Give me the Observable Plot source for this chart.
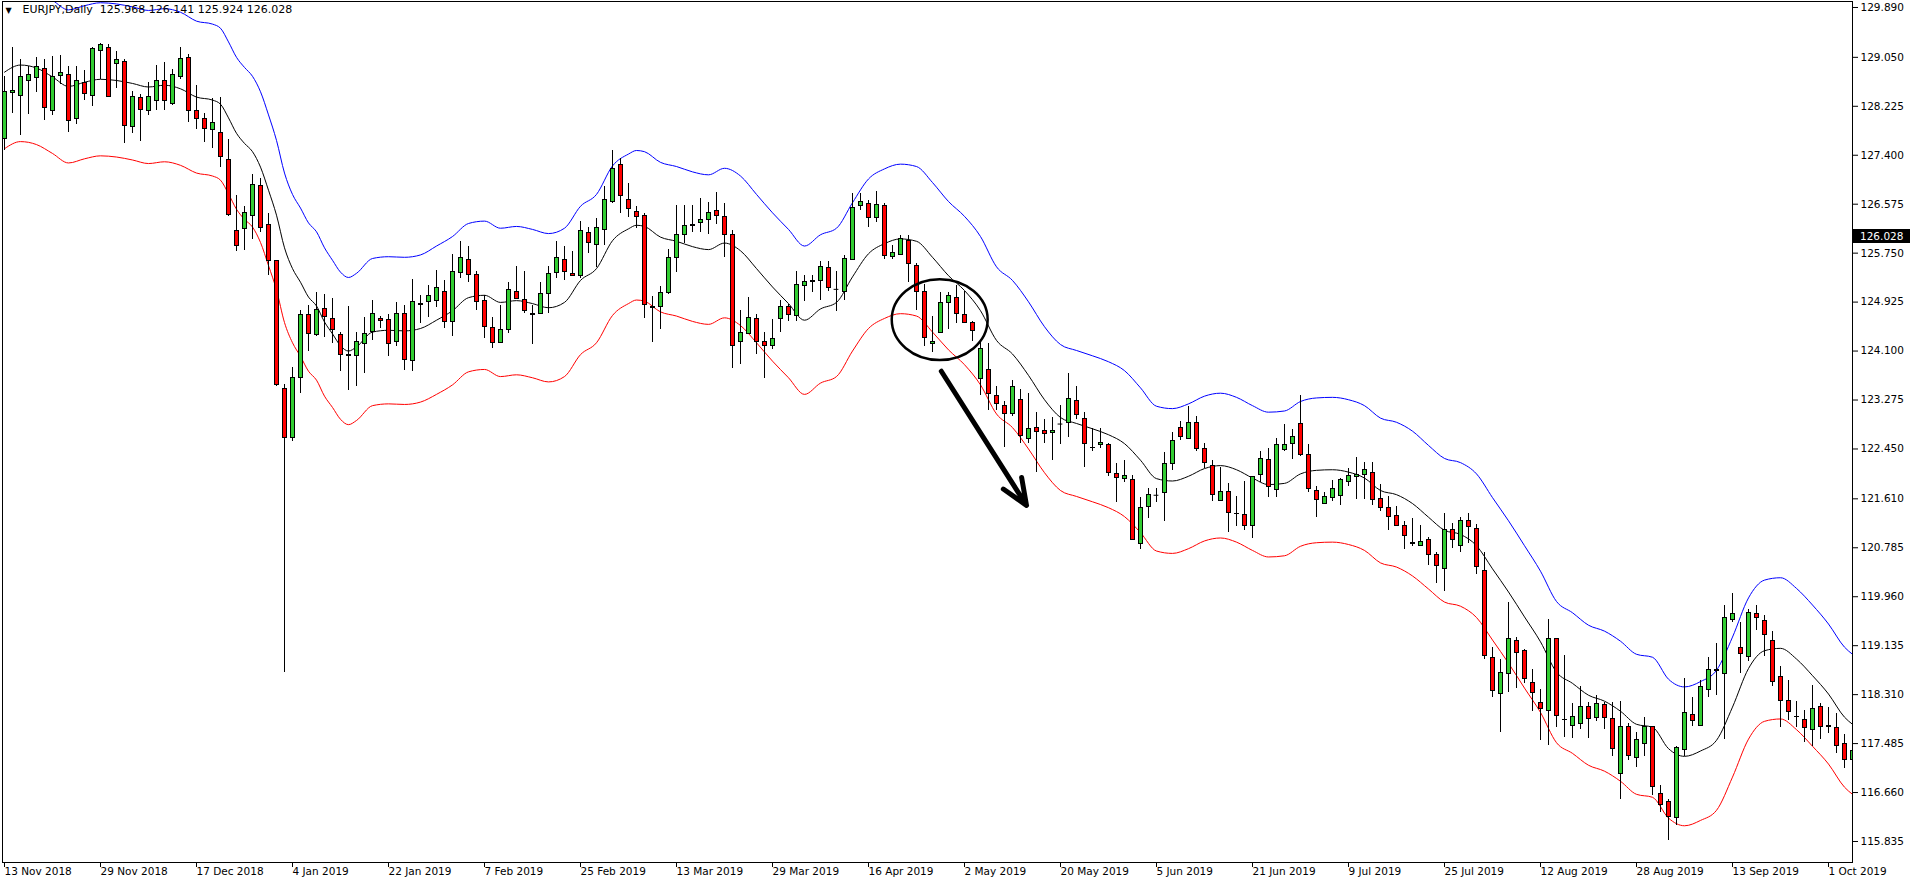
<!DOCTYPE html>
<html><head><meta charset="utf-8">
<script src="https://cdn.jsdelivr.net/npm/d3@7"></script>
<script src="https://cdn.jsdelivr.net/npm/@observablehq/plot@0.6"></script>
<style>
html,body{margin:0;padding:0;background:#fff;overflow:hidden;}
#wrap{width:1916px;height:884px;}
</style></head><body><div id="wrap"></div>
<script>
// ---- Daily EURJPY bars (index 0 = 13 Nov 2018) ----
const openPrices = [127.67,128.45,128.40,128.65,128.70,128.85,128.15,128.73,128.75,128.01,128.62,128.40,129.15,129.21,128.94,128.97,127.88,128.37,128.15,128.31,128.65,128.26,128.72,129.04,128.15,128.01,127.82,127.78,127.32,126.13,126.15,126.37,126.88,126.23,125.61,123.46,122.64,123.65,124.70,124.37,124.81,124.64,124.37,124.03,124.02,124.22,124.42,124.64,124.63,124.25,124.72,123.93,124.87,124.92,124.94,125.10,124.59,125.41,125.63,125.39,124.94,124.49,124.24,124.46,125.10,124.96,124.73,124.72,125.07,125.41,125.64,125.40,125.36,126.09,125.89,126.14,126.62,127.24,126.65,126.44,126.37,124.85,124.85,125.08,125.67,126.06,126.21,126.26,126.31,126.46,126.36,126.06,124.25,124.39,124.64,124.25,124.18,124.64,124.85,124.69,125.19,125.28,125.28,125.50,125.14,125.10,125.64,126.54,126.58,126.35,126.55,125.68,125.72,125.96,125.53,125.10,124.22,124.40,124.91,125.00,124.71,124.58,123.63,123.78,123.35,123.17,123.04,123.28,122.62,122.81,122.75,122.72,122.87,122.89,123.26,122.96,122.47,122.52,122.52,122.03,121.95,121.93,120.85,121.47,121.67,121.70,122.20,122.81,122.61,122.89,122.45,122.16,121.58,121.73,121.36,121.34,121.16,122.01,122.27,121.76,122.44,122.53,122.87,122.35,121.75,121.53,121.62,121.66,121.89,121.98,122.01,122.05,121.61,121.46,121.32,121.16,120.86,120.81,120.91,120.66,120.43,121.08,120.81,121.23,121.10,120.40,118.93,118.32,118.66,119.22,119.05,118.51,118.17,118.03,119.24,117.89,117.78,117.82,118.10,117.92,118.14,117.90,116.98,117.77,117.25,117.48,117.76,116.64,116.50,116.23,117.38,117.97,117.78,118.38,118.72,118.66,119.57,119.10,118.95,119.67,119.55,119.21,118.60,118.20,117.94,117.89,117.72,118.10,117.78,117.75,117.48,117.20];
const highPrices = [128.73,129.21,129.01,128.89,129.04,129.01,129.06,129.08,128.89,128.89,128.83,129.22,129.29,129.26,129.14,129.01,128.47,128.42,128.63,128.91,128.96,128.84,129.22,129.10,128.57,128.10,128.35,128.37,127.67,126.72,126.53,127.07,127.00,126.41,125.63,123.53,123.83,124.78,124.86,125.09,125.05,124.99,124.41,124.85,124.41,124.66,124.95,124.68,124.72,124.91,124.87,125.31,125.03,125.21,125.46,125.29,125.72,125.94,125.86,125.44,125.04,124.67,124.87,125.25,125.53,125.44,124.86,125.26,125.53,125.94,125.86,125.77,126.29,126.19,126.33,126.88,127.48,127.34,126.93,126.53,126.42,125.02,125.19,125.81,126.55,126.55,126.55,126.67,126.60,126.77,126.58,126.14,124.79,125.01,124.71,124.41,124.63,124.95,124.88,125.44,125.37,125.38,125.61,125.61,125.44,125.71,126.75,126.76,126.64,126.79,126.58,125.88,126.05,126.04,125.58,125.22,124.69,125.08,125.09,125.20,125.11,124.60,124.25,124.23,123.50,123.25,123.60,123.45,123.38,123.07,122.94,122.98,123.18,123.73,123.50,123.07,122.79,122.79,122.54,122.21,122.26,122.00,121.64,121.78,121.78,122.39,122.72,122.92,123.17,123.00,122.55,122.26,122.13,121.86,121.65,121.90,121.98,122.40,122.45,122.62,122.87,122.77,123.35,122.52,121.81,121.72,121.92,121.96,122.12,122.30,122.23,122.22,121.85,121.65,121.48,121.23,121.27,121.16,120.96,120.70,121.36,121.20,121.30,121.37,121.17,120.70,119.11,118.91,119.86,119.28,119.07,118.73,118.40,119.58,119.25,118.97,118.16,118.45,118.18,118.30,118.17,118.17,118.20,117.83,117.68,117.93,117.77,116.78,116.55,117.44,118.59,118.26,118.54,118.94,119.18,119.81,120.02,119.52,119.75,119.81,119.64,119.37,118.78,118.55,118.20,118.05,118.46,118.16,118.10,117.99,117.64,117.48];
const lowPrices = [127.48,128.10,127.74,128.09,128.45,127.98,128.07,128.59,127.79,127.91,128.33,128.22,128.68,128.37,128.52,127.59,127.76,127.64,128.07,128.15,128.15,128.24,128.68,127.96,127.84,127.62,127.51,127.20,126.36,125.77,125.79,125.98,126.10,125.38,123.51,118.68,122.57,123.39,124.10,124.34,124.33,124.22,123.75,123.44,123.51,123.72,124.28,124.48,124.01,124.18,123.77,123.76,124.57,124.67,124.84,124.48,124.34,125.33,125.26,124.78,124.32,124.14,124.24,124.39,124.98,124.73,124.21,124.72,124.74,125.32,125.29,125.37,125.32,125.75,125.51,125.88,126.58,126.42,126.35,126.16,124.65,124.25,124.46,125.05,125.43,125.91,126.10,126.10,126.06,126.24,125.67,123.80,123.87,124.39,124.04,123.63,124.12,124.42,124.60,124.59,124.94,125.09,124.95,125.11,124.76,124.95,125.63,126.47,126.18,126.26,125.64,125.64,125.72,125.26,124.79,124.18,124.07,124.40,124.46,124.56,124.58,124.26,123.35,123.10,123.10,122.47,122.99,122.54,122.55,122.06,122.55,122.25,122.52,122.65,122.94,122.13,122.40,122.45,121.99,121.55,121.89,120.90,120.76,121.28,121.54,121.23,122.08,122.59,122.61,122.40,122.12,121.57,121.58,121.05,121.15,121.07,120.94,121.88,121.64,121.64,122.40,122.27,122.33,121.72,121.30,121.53,121.57,121.50,121.82,121.60,121.60,121.49,121.40,121.08,121.15,120.76,120.80,120.80,120.48,120.19,120.04,120.78,120.71,120.85,120.33,118.91,118.26,117.67,118.35,118.42,118.49,118.03,117.54,117.45,117.76,117.59,117.57,117.73,117.57,117.85,117.72,117.26,116.55,117.20,117.09,117.26,116.61,116.32,115.86,116.11,117.26,117.78,117.78,118.26,118.29,117.55,119.52,118.67,118.87,119.39,118.95,118.44,117.76,117.88,117.76,117.51,117.43,117.55,117.66,117.31,117.06,117.07];
const closePrices = [128.47,128.49,128.72,128.75,128.89,128.20,128.72,128.79,127.98,128.65,128.43,129.19,129.26,128.38,129.01,127.89,128.38,128.16,128.38,128.65,128.31,128.75,129.03,128.15,128.01,127.85,127.95,127.37,126.39,125.87,126.42,126.90,126.17,125.61,123.53,122.64,123.65,124.71,124.39,124.80,124.67,124.46,124.04,124.02,124.25,124.39,124.72,124.60,124.22,124.73,123.95,124.92,124.90,125.02,125.17,124.59,125.44,125.67,125.39,124.92,124.50,124.23,124.45,125.13,124.98,124.77,124.71,125.07,125.40,125.66,125.44,125.37,126.12,125.92,126.18,126.64,127.17,126.71,126.50,126.36,124.88,124.83,125.08,125.67,126.06,126.20,126.22,126.31,126.43,126.37,126.06,124.19,124.41,124.66,124.25,124.18,124.31,124.85,124.71,125.22,125.27,125.27,125.51,125.16,125.14,125.65,126.51,126.62,126.35,126.56,125.70,125.76,125.99,125.57,125.09,124.32,124.25,124.91,125.02,124.73,124.58,124.44,124.14,123.38,123.21,123.04,123.50,122.67,122.79,122.73,122.71,122.76,122.87,123.30,123.03,122.54,122.46,122.55,122.05,121.96,121.99,120.91,121.46,121.68,121.67,122.20,122.58,122.65,122.89,122.45,122.22,121.68,121.72,121.37,121.35,121.16,121.97,122.28,121.81,122.52,122.51,122.66,122.35,121.78,121.59,121.64,121.77,121.92,121.99,122.01,122.10,121.59,121.46,121.30,121.15,120.98,120.85,120.89,120.67,120.48,121.08,120.91,121.23,121.13,120.46,118.96,118.37,118.67,119.24,119.02,118.58,118.34,118.07,119.24,117.95,117.88,117.93,118.10,117.90,118.16,117.92,117.40,117.77,117.27,117.55,117.76,116.75,116.45,116.25,117.41,118.00,117.87,118.44,118.73,118.71,119.60,119.67,118.99,119.69,119.60,119.31,118.53,118.21,118.01,117.93,117.75,118.07,117.77,117.77,117.45,117.20,117.36];

// ---- Moving average (black) and 1% envelope (blue / red), read at bar indices ----
const maBars = [0,2,4,6,8,10,12,14,16,18,20,22,24,26,27,28,29,30,31,32,33,34,35,36,37,38,39,40,41,42,43,44,46,48,50,52,54,56,58,60,62,64,66,68,70,72,74,76,78,79,80,82,84,86,88,90,92,94,96,98,100,102,104,106,108,110,112,114,116,118,120,122,124,126,128,130,132,134,136,138,140,142,144,146,148,150,152,154,156,158,160,162,164,166,168,170,172,174,176,178,180,182,184,186,188,190,192,194,196,198,200,202,204,206,208,210,212,214,216,218,220,222,224,226,228,230,231];
const maMiddle = [128.80,128.92,128.87,128.72,128.56,128.63,128.68,128.66,128.61,128.55,128.58,128.52,128.38,128.33,128.26,128.03,127.77,127.60,127.46,127.20,126.81,126.39,125.84,125.49,125.26,125.01,124.86,124.59,124.39,124.19,124.10,124.17,124.42,124.45,124.44,124.48,124.62,124.78,125.00,125.04,124.92,124.95,124.90,124.83,124.92,125.29,125.49,125.96,126.16,126.22,126.20,126.02,125.95,125.86,125.81,125.92,125.79,125.49,125.18,124.90,124.62,124.81,124.92,125.35,125.74,125.91,125.99,125.95,125.68,125.37,125.12,124.78,124.28,124.05,123.69,123.28,122.98,122.88,122.79,122.69,122.54,122.26,121.95,121.91,121.99,122.12,122.17,122.10,121.96,121.85,121.87,122.03,122.09,122.10,122.06,121.96,121.75,121.68,121.53,121.30,121.08,121.01,120.82,120.43,120.04,119.62,119.20,118.69,118.50,118.30,118.20,118.03,117.81,117.76,117.40,117.27,117.36,117.54,118.10,118.75,119.05,119.09,118.91,118.63,118.32,117.93,117.81];
const envUpper = [130.09,130.21,130.16,130.01,129.85,129.92,129.97,129.95,129.90,129.84,129.87,129.81,129.66,129.61,129.54,129.31,129.05,128.88,128.73,128.47,128.08,127.65,127.10,126.74,126.51,126.26,126.11,125.84,125.63,125.43,125.34,125.41,125.66,125.69,125.68,125.72,125.87,126.03,126.25,126.29,126.17,126.20,126.15,126.08,126.17,126.54,126.74,127.22,127.42,127.48,127.46,127.28,127.21,127.12,127.07,127.18,127.05,126.74,126.43,126.15,125.87,126.06,126.17,126.60,127.00,127.17,127.25,127.21,126.94,126.62,126.37,126.03,125.52,125.29,124.93,124.51,124.21,124.11,124.02,123.92,123.77,123.48,123.17,123.13,123.21,123.34,123.39,123.32,123.18,123.07,123.09,123.25,123.31,123.32,123.28,123.18,122.97,122.90,122.75,122.51,122.29,122.22,122.03,121.63,121.24,120.82,120.39,119.88,119.69,119.48,119.38,119.21,118.99,118.94,118.57,118.44,118.53,118.72,119.28,119.94,120.24,120.28,120.10,119.82,119.50,119.11,118.99];
const envLower = [127.51,127.63,127.58,127.43,127.27,127.34,127.39,127.37,127.32,127.26,127.29,127.23,127.10,127.05,126.98,126.75,126.49,126.32,126.19,125.93,125.54,125.13,124.58,124.24,124.01,123.76,123.61,123.34,123.15,122.95,122.86,122.93,123.18,123.21,123.20,123.24,123.37,123.53,123.75,123.79,123.67,123.70,123.65,123.58,123.67,124.04,124.24,124.70,124.90,124.96,124.94,124.76,124.69,124.60,124.55,124.66,124.53,124.24,123.93,123.65,123.37,123.56,123.67,124.10,124.48,124.65,124.73,124.69,124.42,124.12,123.87,123.53,123.04,122.81,122.45,122.05,121.75,121.65,121.56,121.46,121.31,121.04,120.73,120.69,120.77,120.90,120.95,120.88,120.74,120.63,120.65,120.81,120.87,120.88,120.84,120.74,120.53,120.46,120.31,120.09,119.87,119.80,119.61,119.23,118.84,118.42,118.01,117.50,117.32,117.12,117.02,116.85,116.63,116.58,116.23,116.10,116.19,116.36,116.92,117.56,117.86,117.90,117.72,117.44,117.14,116.75,116.63];

// ---- Axes ----
const dateTickBars = [0,12,24,36,48,60,72,84,96,108,120,132,144,156,168,180,192,204,216,228];
const dateTickLabels = ["13 Nov 2018","29 Nov 2018","17 Dec 2018","4 Jan 2019","22 Jan 2019","7 Feb 2019","25 Feb 2019","13 Mar 2019","29 Mar 2019","16 Apr 2019","2 May 2019","20 May 2019","5 Jun 2019","21 Jun 2019","9 Jul 2019","25 Jul 2019","12 Aug 2019","28 Aug 2019","13 Sep 2019","1 Oct 2019"];
const priceTicks = [129.890,129.050,128.225,127.400,126.575,125.750,124.925,124.100,123.275,122.450,121.610,120.785,119.960,119.135,118.310,117.485,116.660,115.835];
const headerText = "EURJPY,Daily  125.968 126.141 125.924 126.028";
const lastPrice = 126.028;

// ---- Hand-drawn annotations (bar index / price) ----
const circleNote = [{bar: 116.9, price: 124.63}];
const arrowNote = [{bar1: 117.1, price1: 123.76, bar2: 127.75, price2: 121.50}];

const bars = openPrices.map((o, i) => ({i, open: o, high: highPrices[i], low: lowPrices[i], close: closePrices[i]}));
const maRows = maBars.map((b, k) => ({i: b, mid: maMiddle[k], upper: envUpper[k], lower: envLower[k]}));
const up = bars.filter(d => d.close > d.open);
const down = bars.filter(d => d.close < d.open);
const flat = bars.filter(d => d.close === d.open);

const FONT = "'DejaVu Sans', Verdana, sans-serif";

const chart = Plot.plot({
  width: 1916, height: 884,
  marginLeft: 2, marginRight: 64, marginTop: 1, marginBottom: 22,
  x: {domain: [-0.25, 231], axis: null},
  y: {domain: [115.481, 129.991], axis: null},
  style: {background: "#ffffff", color: "#000", fontFamily: FONT, fontSize: "10.5px", overflow: "visible"},
  marks: [
    Plot.line(maRows, {x: "i", y: "upper", stroke: "#0000ff", strokeWidth: 1, curve: "monotone-x", clip: true}),
    Plot.line(maRows, {x: "i", y: "lower", stroke: "#ff0000", strokeWidth: 1, curve: "monotone-x", clip: true}),
    Plot.line(maRows, {x: "i", y: "mid", stroke: "#000000", strokeWidth: 1, curve: "monotone-x", clip: true}),
    Plot.ruleX(bars, {x: "i", y1: "low", y2: "high", stroke: "#000", strokeWidth: 1, clip: true, shapeRendering: "crispEdges"}),
    Plot.rect(up, {x1: d => d.i - 0.25, x2: d => d.i + 0.25, y1: "open", y2: "close", fill: "#32cd32", stroke: "#000", strokeWidth: 1, clip: true, shapeRendering: "crispEdges"}),
    Plot.rect(down, {x1: d => d.i - 0.25, x2: d => d.i + 0.25, y1: "open", y2: "close", fill: "#ff0000", stroke: "#000", strokeWidth: 1, clip: true, shapeRendering: "crispEdges"}),
    Plot.ruleY(flat, {y: "open", x1: d => d.i - 0.3, x2: d => d.i + 0.3, stroke: "#000", clip: true}),
    Plot.dot(circleNote, {x: "bar", y: "price", r: 44, stroke: "#000", strokeWidth: 2.5, fill: "none",
      render(index, scales, values, dims, ctx, next) {
        const g = next(index, scales, values, dims, ctx);
        d3.select(g).selectAll("circle").each(function() {
          const c = d3.select(this);
          const cx = +c.attr("cx") || 0, cy = +c.attr("cy") || 0;
          const t = c.attr("transform") || "";
          c.attr("vector-effect", "non-scaling-stroke");
          if (t) {
            c.attr("transform", t + " scale(1.09,0.92)");
          } else {
            c.attr("transform", `translate(${cx},${cy}) scale(1.09,0.92) translate(${-cx},${-cy})`);
          }
        });
        return g;
      }}),
    Plot.arrow(arrowNote, {x1: "bar1", y1: "price1", x2: "bar2", y2: "price2", stroke: "#000", strokeWidth: 5, headLength: 8.5, headAngle: 45, strokeLinecap: "round", strokeLinejoin: "round"}),
    Plot.axisX({ticks: dateTickBars, tickFormat: d => dateTickLabels[dateTickBars.indexOf(d)], textAnchor: "start", tickSize: 5, tickPadding: 0, fontSize: 10.5, dx: 0}),
    Plot.axisY({anchor: "right", ticks: priceTicks, tickFormat: d => d.toFixed(3), tickSize: 5, tickPadding: 3, fontSize: 10.5}),
    Plot.frame({stroke: "#000", strokeWidth: 1}),
    Plot.text(["\u25BC"], {frameAnchor: "top-left", dx: 3, dy: 6, textAnchor: "start", lineAnchor: "top", fontSize: 8, fill: "#000"}),
    Plot.text([headerText], {frameAnchor: "top-left", dx: 20, dy: 4, textAnchor: "start", lineAnchor: "top", fontSize: 11, fill: "#000"})
  ]
});

const svg = d3.select(chart);
const yp = chart.scale("y").apply(lastPrice);
svg.append("rect").attr("x", 1853).attr("y", Math.round(yp) - 7).attr("width", 57).attr("height", 14).attr("fill", "#000");
svg.append("text").attr("x", 1860).attr("y", yp).attr("dy", "0.35em").attr("fill", "#fff")
  .attr("text-anchor", "start")
  .attr("font-family", FONT).attr("font-size", "10.5px").text(lastPrice.toFixed(3));

document.getElementById("wrap").appendChild(chart);
</script>
</body></html>
